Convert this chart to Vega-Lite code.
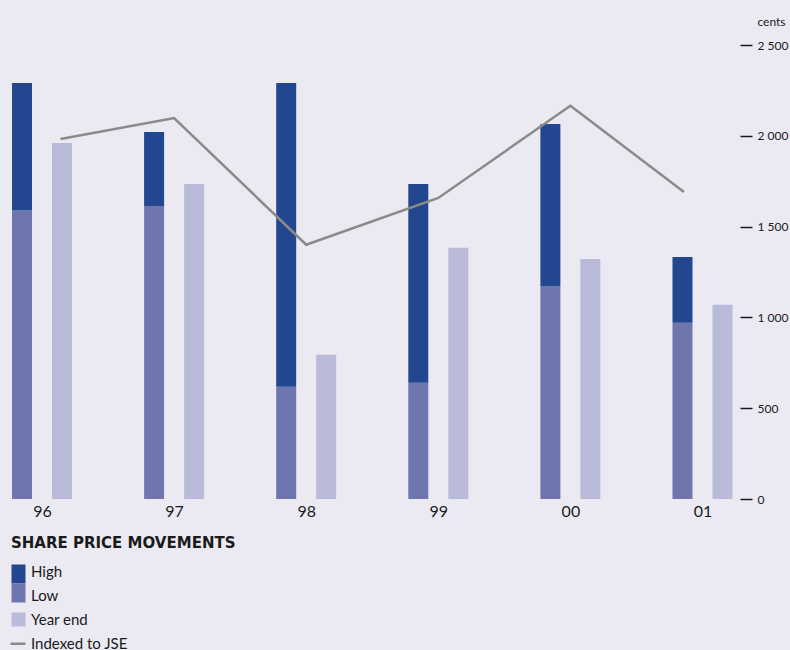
{
  "$schema": "https://vega.github.io/schema/vega-lite/v6.json",
  "width": 740,
  "height": 454,
  "autosize": {"type": "none"},
  "padding": {"left": 0, "top": 45, "right": 50, "bottom": 151},
  "background": "#ebeaf3",
  "config": {"view": {"stroke": null}, "font": "Lato"},
  "datasets": {
    "prices": [
      {"year": 1996, "low": 1588, "high": 2291, "yearEnd": 1961},
      {"year": 1997, "low": 1614, "high": 2021, "yearEnd": 1735},
      {"year": 1998, "low": 618, "high": 2291, "yearEnd": 795},
      {"year": 1999, "low": 640, "high": 1735, "yearEnd": 1383},
      {"year": 2000, "low": 1170, "high": 2065, "yearEnd": 1322},
      {"year": 2001, "low": 971, "high": 1333, "yearEnd": 1069}
    ],
    "jse": [
      {"year": 1996.14, "index": 1982},
      {"year": 1997, "index": 2098},
      {"year": 1998, "index": 1400},
      {"year": 1999, "index": 1658},
      {"year": 2000, "index": 2165},
      {"year": 2000.86, "index": 1691}
    ]
  },
  "layer": [
    {
      "data": {"name": "prices"},
      "mark": {"type": "bar", "width": 20, "xOffset": -20},
      "encoding": {
        "x": {
          "field": "year", "type": "quantitative",
          "scale": {"domain": [1995.682, 2001.284], "nice": false, "zero": false, "padding": 0},
          "axis": {
            "values": [1996, 1997, 1998, 1999, 2000, 2001],
            "labelExpr": "substring(toString(datum.value), 2)",
            "ticks": false, "domain": false, "grid": false,
            "labelFont": "Lato",
            "labelFontSize": 16, "labelColor": "#1a1a1a", "labelPadding": 4,
            "labelFlush": false, "labelOverlap": false, "title": null
          }
        },
        "y": {
          "field": "low", "type": "quantitative", "title": "cents",
          "scale": {"domain": [0, 2500], "nice": false},
          "axis": {
            "orient": "right",
            "values": [0, 500, 1000, 1500, 2000, 2500],
            "labelExpr": "replace(format(datum.value, ','), ',', ' ')",
            "domain": false, "grid": false,
            "tickSize": 12, "tickWidth": 1.5, "tickColor": "#1a1a1a",
            "labelPadding": 5, "labelFontSize": 12, "labelColor": "#1a1a1a",
            "labelFont": "Lato",
            "labelFlush": false, "labelAlign": "left", "labelBaseline": "middle",
            "titleAngle": 0, "titleAlign": "left", "titleBaseline": "middle",
            "titleX": 17, "titleY": -24, "titleFontSize": 12,
            "titleFont": "Lato",
            "titleFontWeight": "normal", "titleColor": "#1a1a1a"
          }
        },
        "color": {
          "datum": "Low",
          "scale": {
            "domain": ["High", "Low", "Year end", "Indexed to JSE"],
            "range": ["#22478e", "#6f76ad", "#b9bbd8", "#8a8a8a"]
          },
          "legend": {
            "orient": "none", "legendX": 11, "legendY": 491,
            "title": "SHARE PRICE MOVEMENTS", "titleLimit": 500,
            "titleFont": "DejaVu Sans", "titleFontSize": 15, "titleFontWeight": "bold",
            "titleColor": "#1a1a1a", "titlePadding": 13,
            "labelFont": "Lato", "labelFontSize": 15, "labelColor": "#1a1a1a",
            "labelOffset": 5, "symbolSize": 196, "rowPadding": -1, "labelLimit": 300,
            "padding": 0, "offset": 0, "direction": "vertical",
            "encode": {
              "symbols": {
                "update": {
                  "shape": {"signal": "datum.value === 'High' ? 'M-1,-1H1V1.714H-1Z M0,-1.72L0,-1.72 M0,1.72L0,1.72' : datum.value === 'Low' ? 'M-1,-1.714H1V1H-1Z M0,-1.72L0,-1.72 M0,1.72L0,1.72' : datum.value === 'Year end' ? 'M-1,-1H1V1H-1Z M0,-1.72L0,-1.72 M0,1.72L0,1.72' : 'M-1.143,-0.14H1V0.21H-1.143Z M0,-1.72L0,-1.72 M0,1.72L0,1.72'"},
                  "fill": {"scale": "color", "field": "value"},
                  "stroke": {"value": "transparent"},
                  "strokeWidth": {"value": 0},
                  "opacity": {"value": 1}
                }
              }
            }
          }
        }
      }
    },
    {
      "data": {"name": "prices"},
      "mark": {"type": "bar", "width": 20, "xOffset": -20},
      "encoding": {
        "x": {"field": "year", "type": "quantitative"},
        "y": {"field": "high", "type": "quantitative", "title": "cents"},
        "y2": {"field": "low"},
        "color": {"datum": "High"}
      }
    },
    {
      "data": {"name": "prices"},
      "mark": {"type": "bar", "width": 20, "xOffset": 20},
      "encoding": {
        "x": {"field": "year", "type": "quantitative"},
        "y": {"field": "yearEnd", "type": "quantitative", "title": "cents"},
        "color": {"datum": "Year end"}
      }
    },
    {
      "data": {"name": "jse"},
      "mark": {"type": "line", "strokeWidth": 2.5},
      "encoding": {
        "x": {"field": "year", "type": "quantitative"},
        "y": {"field": "index", "type": "quantitative", "title": "cents"},
        "color": {"datum": "Indexed to JSE"}
      }
    }
  ]
}
